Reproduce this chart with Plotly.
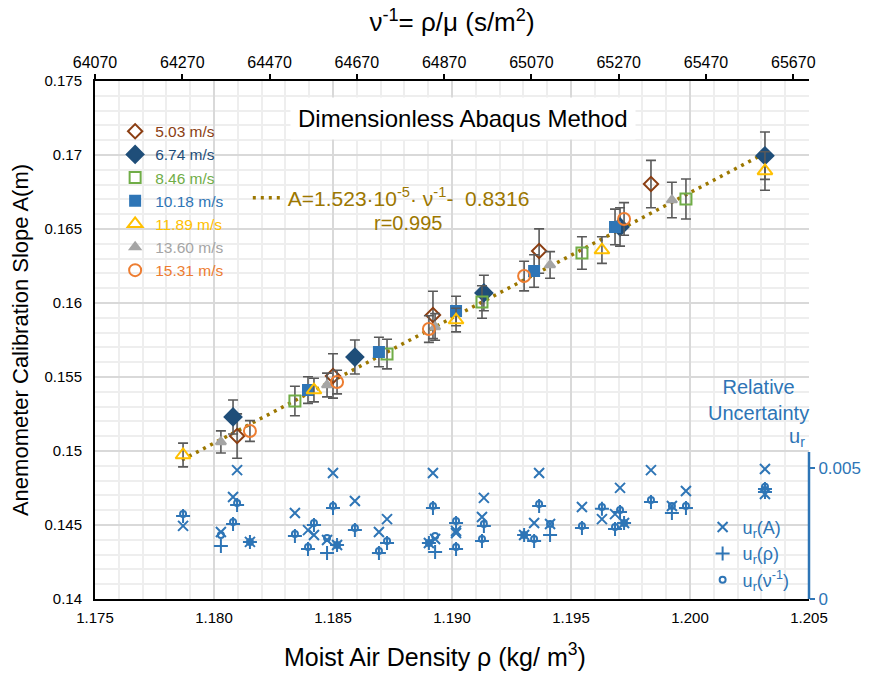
import plotly.graph_objects as go

# ---------------- data ----------------
speeds = ["5.03 m/s", "6.74 m/s", "8.46 m/s", "10.18 m/s", "11.89 m/s", "13.60 m/s", "15.31 m/s"]

rho_503 = [1.18097, 1.18500, 1.18920, 1.19366, 1.19836]
A_503 = [0.15101, 0.15507, 0.15919, 0.16351, 0.16804]
eA_503 = [0.0015, 0.0015, 0.0016, 0.0015, 0.0016]

rho_674 = [1.18080, 1.18592, 1.19134, 1.19706, 1.20315]
A_674 = [0.15230, 0.15635, 0.16068, 0.16514, 0.16995]
eA_674 = [0.00115, 0.00115, 0.0012, 0.0013, 0.0016]

rho_846 = [1.18340, 1.18727, 1.19126, 1.19546, 1.19983]
A_846 = [0.15338, 0.15655, 0.16007, 0.16338, 0.16703]
eA_846 = [0.0010, 0.0010, 0.0011, 0.0011, 0.00135]

rho_1018 = [1.18395, 1.18693, 1.19017, 1.19345, 1.19685]
A_1018 = [0.15412, 0.15669, 0.15946, 0.16216, 0.16514]
eA_1018 = [0.0009, 0.0010, 0.0010, 0.0011, 0.0012]

rho_1189 = [1.17870, 1.18420, 1.19017, 1.19630, 1.20315]
A_1189 = [0.14973, 0.15412, 0.15885, 0.16358, 0.16892]
eA_1189 = [0.0008, 0.0008, 0.0008, 0.0009, 0.0013]

rho_1360 = [1.18029, 1.18475, 1.18929, 1.19412, 1.19924]
A_1360 = [0.15061, 0.15446, 0.15838, 0.16257, 0.16696]
eA_1360 = [0.00075, 0.0008, 0.0009, 0.0009, 0.0012]

rho_1531 = [1.18151, 1.18517, 1.18903, 1.19303, 1.19723]
A_1531 = [0.15135, 0.15466, 0.15824, 0.16182, 0.16568]
eA_1531 = [0.0007, 0.0008, 0.0009, 0.0010, 0.0011]

# relative uncertainties (right axis)
uA_503 = [0.00492, 0.00481, 0.00481, 0.00481, 0.00492]
uRho_503 = [0.00359, 0.00347, 0.00347, 0.00355, 0.00370]
uNu_503 = [0.00366, 0.00355, 0.00355, 0.00363, 0.00378]

uA_674 = [0.00389, 0.00374, 0.00386, 0.00424, 0.00496]
uRho_674 = [0.00286, 0.00263, 0.00279, 0.00332, 0.00408]
uNu_674 = [0.00294, 0.00271, 0.00286, 0.00340, 0.00416]

uA_846 = [0.00328, 0.00305, 0.00313, 0.00351, 0.00412]
uRho_846 = [0.00240, 0.00214, 0.00221, 0.00271, 0.00347]
uNu_846 = [0.00248, 0.00221, 0.00229, 0.00279, 0.00355]

uA_1018 = [0.00263, 0.00256, 0.00252, 0.00290, 0.00324]
uRho_1018 = [0.00191, 0.00176, 0.00191, 0.00221, 0.00267]
uNu_1018 = [0.00198, 0.00183, 0.00198, 0.00229, 0.00275]

uA_1189 = [0.00279, 0.00244, 0.00260, 0.00305, 0.00401]
uRho_1189 = [0.00317, 0.00282, 0.00290, 0.00344, 0.00420]
uNu_1189 = [0.00324, 0.00290, 0.00298, 0.00351, 0.00428]

uA_1360 = [0.00256, 0.00225, 0.00229, 0.00286, 0.00355]
uRho_1360 = [0.00202, 0.00176, 0.00179, 0.00244, 0.00328]
uNu_1360 = [0.00244, 0.00233, 0.00240, 0.00286, 0.00355]

uA_1531 = [0.00218, 0.00206, 0.00214, 0.00244, 0.00290]
uRho_1531 = [0.00218, 0.00206, 0.00214, 0.00244, 0.00290]
uNu_1531 = [0.00218, 0.00206, 0.00214, 0.00244, 0.00290]

# trend line end points (rho, A)
trend_rho = [1.17865, 1.20315]
trend_A = [0.14939, 0.17012]

x_ticks = [1.175, 1.180, 1.185, 1.190, 1.195, 1.200, 1.205]
x_ticktext = ["1.175", "1.180", "1.185", "1.190", "1.195", "1.200", "1.205"]
nu_ticks = [64070, 64270, 64470, 64670, 64870, 65070, 65270, 65470, 65670]
nu_ticktext = [str(v) for v in nu_ticks]
u_ticks = [0, 0.005]
u_ticktext = ["0", "0.005"]

# ---------------- styling ----------------
colors = ["#8B3E12", "#1F4E79", "#70AD47", "#2E75B6", "#FFC000", "#A5A5A5", "#ED7D31"]
symbols = ["diamond-open", "diamond", "square-open", "square", "triangle-up-open", "triangle-up", "circle-open"]
msizes = [11, 13, 11, 10, 13, 9, 12]
UBLUE = "#2E75B6"
TREND = "#9C7700"
BASE_FONT = "Liberation Sans, Arial, sans-serif"

rhos = [rho_503, rho_674, rho_846, rho_1018, rho_1189, rho_1360, rho_1531]
As = [A_503, A_674, A_846, A_1018, A_1189, A_1360, A_1531]
eAs = [eA_503, eA_674, eA_846, eA_1018, eA_1189, eA_1360, eA_1531]
uAs = [uA_503, uA_674, uA_846, uA_1018, uA_1189, uA_1360, uA_1531]
uRhos = [uRho_503, uRho_674, uRho_846, uRho_1018, uRho_1189, uRho_1360, uRho_1531]
uNus = [uNu_503, uNu_674, uNu_846, uNu_1018, uNu_1189, uNu_1360, uNu_1531]

fig = go.Figure()

# uncertainty series (right axis)
all_rho = sum(rhos, [])
fig.add_trace(go.Scatter(
    x=all_rho, y=sum(uNus, []), yaxis="y2", mode="markers",
    name="u<sub>r</sub>(ν<sup>-1</sup>)", legend="legend2",
    marker=dict(symbol="circle-open", size=6, color=UBLUE, line=dict(width=2, color=UBLUE)),
    legendrank=3))
fig.add_trace(go.Scatter(
    x=all_rho, y=sum(uRhos, []), yaxis="y2", mode="markers",
    name="u<sub>r</sub>(ρ)", legend="legend2",
    marker=dict(symbol="cross-thin", size=10, color=UBLUE, line=dict(width=2, color=UBLUE)),
    legendrank=2))
fig.add_trace(go.Scatter(
    x=all_rho, y=sum(uAs, []), yaxis="y2", mode="markers",
    name="u<sub>r</sub>(A)", legend="legend2",
    marker=dict(symbol="x-thin", size=10, color=UBLUE, line=dict(width=2, color=UBLUE)),
    legendrank=1))

# trend line
fig.add_trace(go.Scatter(
    x=trend_rho, y=trend_A, mode="lines", legend="legend3",
    name="A=1.523·10<sup>-5</sup>· ν<sup>-1</sup>-  0.8316",
    line=dict(color=TREND, width=3.5, dash="3px,5px")))

# measured series
for i in range(len(speeds)):
    fig.add_trace(go.Scatter(
        x=rhos[i], y=As[i], mode="markers",
        name=f"<span style='color:{colors[i]}'>{speeds[i]}</span>",
        legendgroup=f"g{i}", legendrank=i + 1,
        error_y=dict(type="data", array=eAs[i], color="#595959", thickness=1.6, width=5),
        marker=dict(symbol=symbols[i], size=msizes[i], color=colors[i],
                    line=dict(width=2, color=colors[i]))))

# dummy trace to activate top axis
fig.add_trace(go.Scatter(x=[nu_ticks[0]], y=[None], xaxis="x2", showlegend=False, hoverinfo="skip"))

grid_major = "#D9D9D9"
grid_minor = "#EEEEEE"

fig.update_layout(
    width=873, height=675,
    margin=dict(l=95, r=64, t=81, b=76),
    plot_bgcolor="white", paper_bgcolor="white",
    font=dict(family=BASE_FONT, size=15, color="black"),
    xaxis=dict(
        range=[1.175, 1.205], tickvals=x_ticks, ticktext=x_ticktext,
        showgrid=True, gridcolor=grid_major, gridwidth=2,
        minor=dict(dtick=0.001, showgrid=True, gridcolor=grid_minor, gridwidth=2),
        showline=True, linecolor="black", linewidth=2, ticks="", zeroline=False,
        tickfont=dict(size=15), ticklabelstandoff=4),
    xaxis2=dict(
        overlaying="x", side="top", range=[64070, 65706],
        tickvals=nu_ticks, ticktext=nu_ticktext,
        showgrid=False, showline=True, linecolor="black", linewidth=2,
        ticks="outside", ticklen=5, tickwidth=2, tickcolor="black", zeroline=False,
        tickfont=dict(size=16),
        title=dict(text="ν<sup>-1</sup>= ρ/μ (s/m<sup>2</sup>)", font=dict(size=26), standoff=14)),
    yaxis=dict(
        range=[0.14, 0.175], dtick=0.005,
        showgrid=True, gridcolor=grid_major, gridwidth=2,
        minor=dict(dtick=0.001, showgrid=True, gridcolor=grid_minor, gridwidth=2),
        showline=True, linecolor="black", linewidth=2, ticks="", zeroline=False,
        tickfont=dict(size=15), ticklabelstandoff=8,
        title=dict(text="Anemometer Calibration Slope A(m)", font=dict(size=22), standoff=10)),
    yaxis2=dict(
        overlaying="y", side="right", range=[0, 0.005 * 518 / 131],
        tickvals=u_ticks, ticktext=u_ticktext, showgrid=False, showline=False, zeroline=False,
        ticks="outside", ticklen=5, tickwidth=2, tickcolor=UBLUE,
        tickfont=dict(size=17, color=UBLUE)),
    legend=dict(
        x=0.0282, y=0.935, xanchor="left", yanchor="top", bgcolor="rgba(0,0,0,0)",
        font=dict(size=15.5), tracegroupgap=0, traceorder="grouped"),
    legend2=dict(
        x=0.851, y=0.174, xanchor="left", yanchor="top", bgcolor="rgba(0,0,0,0)",
        font=dict(size=18, color=UBLUE)),
    legend3=dict(
        x=0.214, y=0.8135, xanchor="left", yanchor="top", bgcolor="rgba(0,0,0,0)",
        font=dict(size=21, color=TREND)),
    shapes=[dict(type="line", xref="paper", x0=1, x1=1, yref="y2", y0=0, y1=0.005 * 147 / 131,
                 line=dict(color=UBLUE, width=2.5))],
    annotations=[
        dict(text="Moist Air Density ρ (kg/ m<sup>3</sup>)", xref="paper", yref="paper",
             x=(435 - 95) / 714, y=(599 - 655) / 518, yanchor="middle", showarrow=False,
             font=dict(size=25, color="black")),
        dict(text="Dimensionless Abaqus Method", xref="paper", yref="paper",
             x=0.515, y=(599 - 119) / 518, yanchor="middle", showarrow=False,
             bgcolor="white", borderpad=7, font=dict(size=24, color="black")),
        dict(text="r=0.995", xref="paper", yref="paper", x=(408 - 95) / 714, y=(599 - 223) / 518,
             yanchor="middle", showarrow=False, font=dict(size=20, color=TREND)),
        dict(text="Relative<br>Uncertainty", xref="paper", yref="paper",
             x=(811 - 95) / 714, y=(599 - 400) / 518, yanchor="middle", showarrow=False,
             font=dict(size=20, color=UBLUE)),
        dict(text="u<sub>r</sub>", xref="paper", yref="paper",
             x=(807 - 95) / 714, y=(599 - 437) / 518, yanchor="middle", showarrow=False,
             font=dict(size=20, color=UBLUE)),
    ],
)

fig.write_html("out.html")
